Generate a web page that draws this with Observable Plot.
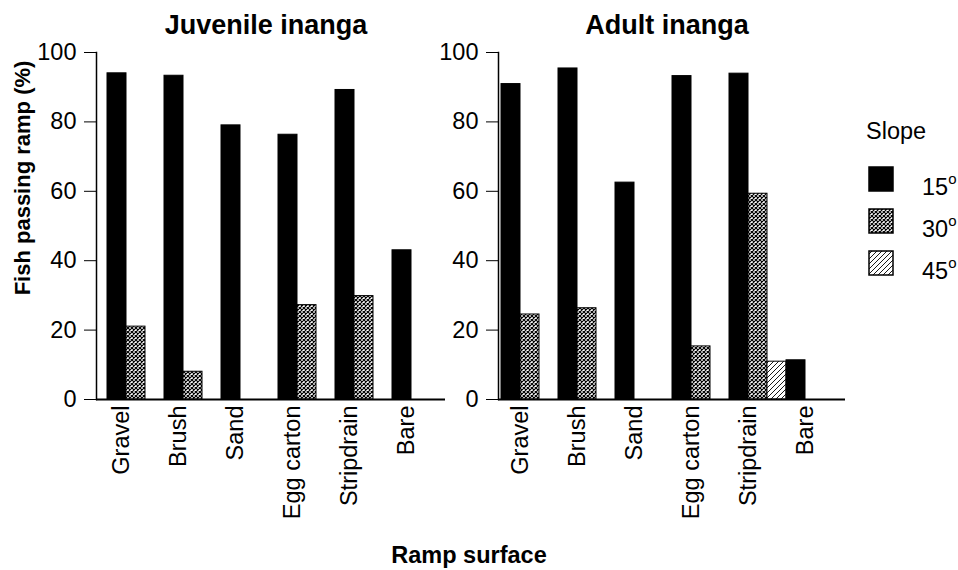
<!DOCTYPE html>
<html>
<head>
<meta charset="utf-8">
<script src="https://cdn.jsdelivr.net/npm/d3@7"></script>
<script src="https://cdn.jsdelivr.net/npm/@observablehq/plot@0.6"></script>
<style>
  html, body { margin: 0; padding: 0; background: #fff; }
  body { font-family: "Liberation Sans", Arial, sans-serif; color: #000; }
  #wrap { position: relative; width: 958px; height: 570px; overflow: hidden; background: #fff; }
  .panel { position: absolute; top: 0; width: 460px; height: 570px; }
  #left { left: 0; }
  #right { left: 400px; }
  #xlabel { position: absolute; left: 0; width: 938px; top: 541px; text-align: center; font-weight: bold; font-size: 23.5px; line-height: 28px; }
  #legend { position: absolute; left: 866px; top: 116px; width: 92px; font-size: 23.5px; }
  #legend .title { height: 30px; line-height: 30px; margin-bottom: 20px; }
  #legend .row { position: relative; height: 42px; }
  #legend .row svg { position: absolute; left: 2px; top: 0; }
  #legend .row span { position: absolute; left: 56px; top: 3px; line-height: 24px; }
  #legend sup { font-size: 15px; position: relative; top: -2px; }
</style>
</head>
<body>
<svg width="0" height="0" style="position:absolute">
  <defs>
    <pattern id="cross" patternUnits="userSpaceOnUse" width="4" height="4">
      <rect width="4" height="4" fill="#fff"/>
      <path d="M0,0L4,4M4,0L0,4" stroke="#000" stroke-width="1.2"/>
    </pattern>
    <pattern id="hatch" patternUnits="userSpaceOnUse" width="5" height="5">
      <rect width="5" height="5" fill="#fff"/>
      <path d="M0,5L5,0M-1,1L1,-1M4,6L6,4" stroke="#000" stroke-width="0.9"/>
    </pattern>
  </defs>
</svg>
<div id="wrap">
  <div id="left" class="panel"></div>
  <div id="right" class="panel"></div>
  <div id="xlabel">Ramp surface</div>
  <div id="legend"></div>
</div>
<script>
// ---- data ----
const surfaces = ["Gravel", "Brush", "Sand", "Egg carton", "Stripdrain", "Bare"];
const slopes = ["15", "30", "45"];
const yTicks = [0, 20, 40, 60, 80, 100];
const panelTitles = ["Juvenile inanga", "Adult inanga"];

const juvenile15 = [94, 93.3, 79, 76.3, 89.2, 43];
const juvenile30 = [21, 8, null, 27.2, 29.8, null];
const juvenile45 = [null, null, null, null, null, null];

const adult15 = [90.9, 95.4, 62.5, 93.2, 93.9, 11.3];
const adult30 = [24.5, 26.3, null, 15.3, 59.3, null];
const adult45 = [null, null, null, null, 10.9, null];

const slopeFills = ["#000", "url(#cross)", "url(#hatch)"];

// ---- build rows ----
const keys = surfaces.flatMap(s => slopes.map(sl => s + "|" + sl));
function rows(v15, v30, v45) {
  const series = [v15, v30, v45];
  return surfaces.flatMap((s, i) => slopes.map((sl, j) => ({
    surface: s, slope: sl, key: s + "|" + sl, value: series[j][i]
  }))).filter(d => d.value != null);
}

function panel(data, title, opts) {
  return Plot.plot({
    width: 460,
    height: 570,
    marginLeft: opts.marginLeft,
    marginRight: opts.marginRight,
    marginTop: 52,
    marginBottom: 171,
    style: { background: "transparent", fontFamily: "'Liberation Sans', Arial, sans-serif", color: "#000" },
    x: { type: "band", domain: keys, range: opts.xRange, padding: 0 },
    y: { domain: [0, 100] },
    color: { type: "ordinal", domain: slopes, range: slopeFills },
    marks: [
      Plot.barY(data, { x: "key", y: "value", fill: "slope", stroke: "#000", strokeWidth: 1 }),
      Plot.frame({ anchor: "left", stroke: "#000", strokeWidth: 1.5 }),
      Plot.ruleY([0], { stroke: "#000", strokeWidth: 2 }),
      Plot.axisY({ ticks: yTicks, tickSize: 12, tickPadding: 8, fontSize: 23.5, label: null, stroke: "#000", strokeWidth: 1 }),
      Plot.axisX({
        ticks: surfaces.map(s => s + "|15"),
        tickFormat: k => k.split("|")[0],
        tickRotate: -90, tickSize: 0, tickPadding: 6,
        dx: opts.labelDx, fontSize: 23.5, label: null
      }),
      Plot.text([title], { frameAnchor: "top", lineAnchor: "bottom", dy: -19, dx: -5, fontSize: 27, fontWeight: "bold" }),
      ...(opts.ylabel ? [Plot.text([opts.ylabel], {
        frameAnchor: "left", textAnchor: "middle", rotate: -90, dx: -74, dy: -48, fontSize: 22, fontWeight: "bold"
      })] : [])
    ]
  });
}

document.getElementById("left").append(
  panel(rows(juvenile15, juvenile30, juvenile45), panelTitles[0],
    { marginLeft: 96, marginRight: 15, xRange: [104, 452], labelDx: 4, ylabel: "Fish passing ramp (%)" })
);
document.getElementById("right").append(
  panel(rows(adult15, adult30, adult45), panelTitles[1],
    { marginLeft: 98, marginRight: 15, xRange: [100, 444.4], labelDx: 9, ylabel: null })
);

// ---- legend ----
const legend = document.getElementById("legend");
legend.innerHTML = `<div class="title">Slope</div>` + slopes.map((s, i) =>
  `<div class="row"><svg width="26" height="26"><rect x="1" y="1" width="24" height="24" fill="${slopeFills[i]}" stroke="#000" stroke-width="1.5"/></svg><span>${s}<sup>o</sup></span></div>`
).join("");
</script>
</body>
</html>
